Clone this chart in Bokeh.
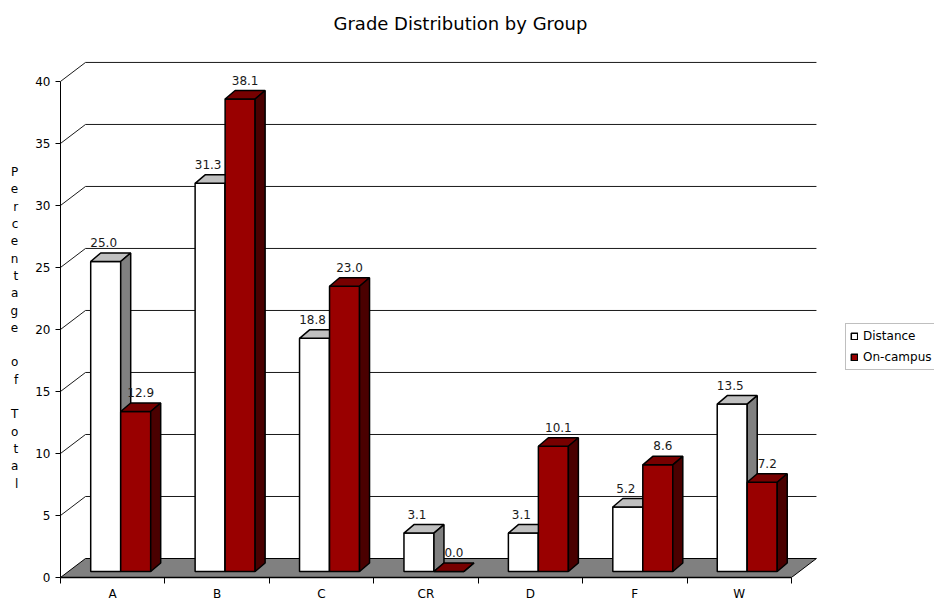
from bokeh.plotting import figure
from bokeh.models import (Range1d, FixedTicker, Legend, LegendItem, Label, ColumnDataSource)
from bokeh.core.properties import value
from bokeh.embed import file_html
from bokeh.resources import INLINE

# ---------------- data ----------------
categories = ["A", "B", "C", "CR", "D", "F", "W"]
distance = [25.0, 31.3, 18.8, 3.1, 3.1, 5.2, 13.5]
on_campus = [12.9, 38.1, 23.0, 0.0, 10.1, 8.6, 7.2]
series_names = ["Distance", "On-campus"]
y_ticks = [0, 5, 10, 15, 20, 25, 30, 35, 40]
title_text = "Grade Distribution by Group"
y_title = "Percentage of Total"

# ---------------- layout constants ----------------
W, H = 934, 603
LEFT, TOP, BOTTOM = 60, 42, 24
FRAME_W = W - LEFT
FRAME_H = H - TOP - 27          # bottom axis panel measures about 27 px
X_END = 8.37
Y_END = 43.06
FONT = "DejaVu Sans"

def px_x(px):
    return px * X_END / FRAME_W

def px_y(py):
    return py * Y_END / FRAME_H

# depth offsets (pixels converted to data units)
WALL_DX, WALL_DY = px_x(25), px_y(19)
BAR_DX0, BAR_DY0 = px_x(8), px_y(6)
BAR_DDX, BAR_DDY = px_x(10), px_y(8.5)
BAR_W = px_x(30)
GAP_L = px_x(22.2)
LABEL_SHIFT = [px_x(-2), px_x(5)]

p = figure(width=W, height=H, output_backend="svg", toolbar_location=None,
           x_range=Range1d(0, X_END), y_range=Range1d(0, Y_END),
           min_border_left=LEFT, min_border_top=TOP, min_border_bottom=BOTTOM,
           min_border_right=0)
p.outline_line_color = None
p.xgrid.visible = False
p.ygrid.visible = False
p.background_fill_color = "white"
p.border_fill_color = "white"

# title
p.title.text = title_text
p.title.align = "left"
p.title.offset = 273
p.title.text_font = FONT
p.title.text_font_size = "18px"
p.title.text_font_style = "normal"
p.title.text_color = "#000000"
p.title.standoff = 20

# y axis
ya = p.yaxis[0]
ya.ticker = FixedTicker(ticks=y_ticks, minor_ticks=[])
ya.bounds = (0, 40)
ya.major_tick_out = 5
ya.major_tick_in = 0
ya.major_label_standoff = 5
ya.major_label_text_font = FONT
ya.major_label_text_font_size = "12px"
ya.major_label_text_color = "#000000"
ya.axis_line_color = "#000000"
ya.major_tick_line_color = "#000000"

stacked = "\n".join(list(y_title))
use_axis_label = "axis_label_orientation" in ya.properties()
if use_axis_label:
    ya.axis_label = " \n \n" + stacked
    ya.axis_label_orientation = "horizontal"
    ya.axis_label_standoff = 14
    ya.axis_label_text_font = FONT
    ya.axis_label_text_font_size = "12px"
    ya.axis_label_text_font_style = "normal"
    ya.axis_label_text_color = "#000000"
    ya.axis_label_text_line_height = 1.236

# x axis
xa = p.xaxis[0]
centers = [i + 0.5 for i in range(len(categories))]
xa.ticker = FixedTicker(ticks=centers, minor_ticks=list(range(len(categories) + 1)))
xa.major_label_overrides = {c: lab for c, lab in zip(centers, categories)}
xa.bounds = (0, len(categories))
xa.major_tick_out = 0
xa.major_tick_in = 0
xa.minor_tick_out = 6
xa.minor_tick_in = 0
xa.major_label_standoff = 3
xa.major_label_text_font = FONT
xa.major_label_text_font_size = "12px"
xa.major_label_text_color = "#000000"
xa.axis_line_color = "#000000"
xa.axis_line_width = 1.5
xa.minor_tick_line_color = "#000000"

n = len(categories)

# back wall gridlines + left wall diagonals
gx0, gy0, gx1, gy1 = [], [], [], []
for t in y_ticks[1:]:
    gx0.append(WALL_DX); gy0.append(t + WALL_DY); gx1.append(n + WALL_DX); gy1.append(t + WALL_DY)
    gx0.append(0); gy0.append(t); gx1.append(WALL_DX); gy1.append(t + WALL_DY)
p.segment(gx0, gy0, gx1, gy1, line_color="#1a1a1a", line_width=1)

# floor
p.patch([0, n, n + WALL_DX, WALL_DX], [0, 0, WALL_DY, WALL_DY],
        fill_color="#808080", line_color="#000000", line_width=1)

# bars
styles = [
    dict(front="#ffffff", top="#c0c0c0", side="#808080"),
    dict(front="#990000", top="#770000", side="#4a0000"),
]
legend_items = []
label_sources = []
for s, vals in enumerate([distance, on_campus]):
    st = styles[s]
    left = [i + BAR_DX0 + GAP_L + s * BAR_W for i in range(n)]
    right = [l + BAR_W for l in left]
    bottom = [BAR_DY0] * n
    top = [v + BAR_DY0 for v in vals]
    fr = p.quad(left=left, right=right, bottom=bottom, top=top,
                fill_color=st["front"], line_color="#000000", line_width=1.5)
    top_xs = [[l, r, r + BAR_DDX, l + BAR_DDX] for l, r in zip(left, right)]
    top_ys = [[t, t, t + BAR_DDY, t + BAR_DDY] for t in top]
    p.patches(top_xs, top_ys, fill_color=st["top"], line_color="#000000", line_width=1.5)
    side_xs = [[r, r, r + BAR_DDX, r + BAR_DDX] for r in right]
    side_ys = [[b, t, t + BAR_DDY, b + BAR_DDY] for b, t in zip(bottom, top)]
    p.patches(side_xs, side_ys, fill_color=st["side"], line_color="#000000", line_width=1.5)
    label_sources.append(ColumnDataSource(dict(
        x=[l + BAR_W / 2 + LABEL_SHIFT[s] for l in left],
        y=[t + BAR_DDY + px_y(6) for t in top],
        text=[f"{v:.1f}" for v in vals])))
    legend_items.append(LegendItem(label=series_names[s], renderers=[fr]))

# value labels drawn after all bars so none is hidden
for src in label_sources:
    p.text(x="x", y="y", text="text", source=src, text_align="center",
           text_baseline="bottom", text_font=value(FONT), text_font_size="12px",
           text_color="#1a1a1a")

legend = Legend(items=legend_items, location=(785, 207))
legend.label_text_font = FONT
legend.label_text_font_size = "12px"
legend.label_text_color = "#000000"
legend.glyph_width = 8
legend.glyph_height = 8
legend.label_height = 16
legend.label_standoff = 5
legend.spacing = 5
legend.padding = 4
legend.margin = 0
legend.border_line_color = "#808080"
legend.border_line_width = 1
legend.background_fill_color = "white"
legend.background_fill_alpha = 1
p.add_layout(legend)

if not use_axis_label:
    p.add_layout(Label(x=14, y=603 - 329, x_units="screen", y_units="screen",
                       text=stacked, text_align="center", text_baseline="middle",
                       text_font=FONT, text_font_size="12px", text_color="#000000",
                       text_line_height=1.236))

open("out.html", "w").write(file_html(p, INLINE))
